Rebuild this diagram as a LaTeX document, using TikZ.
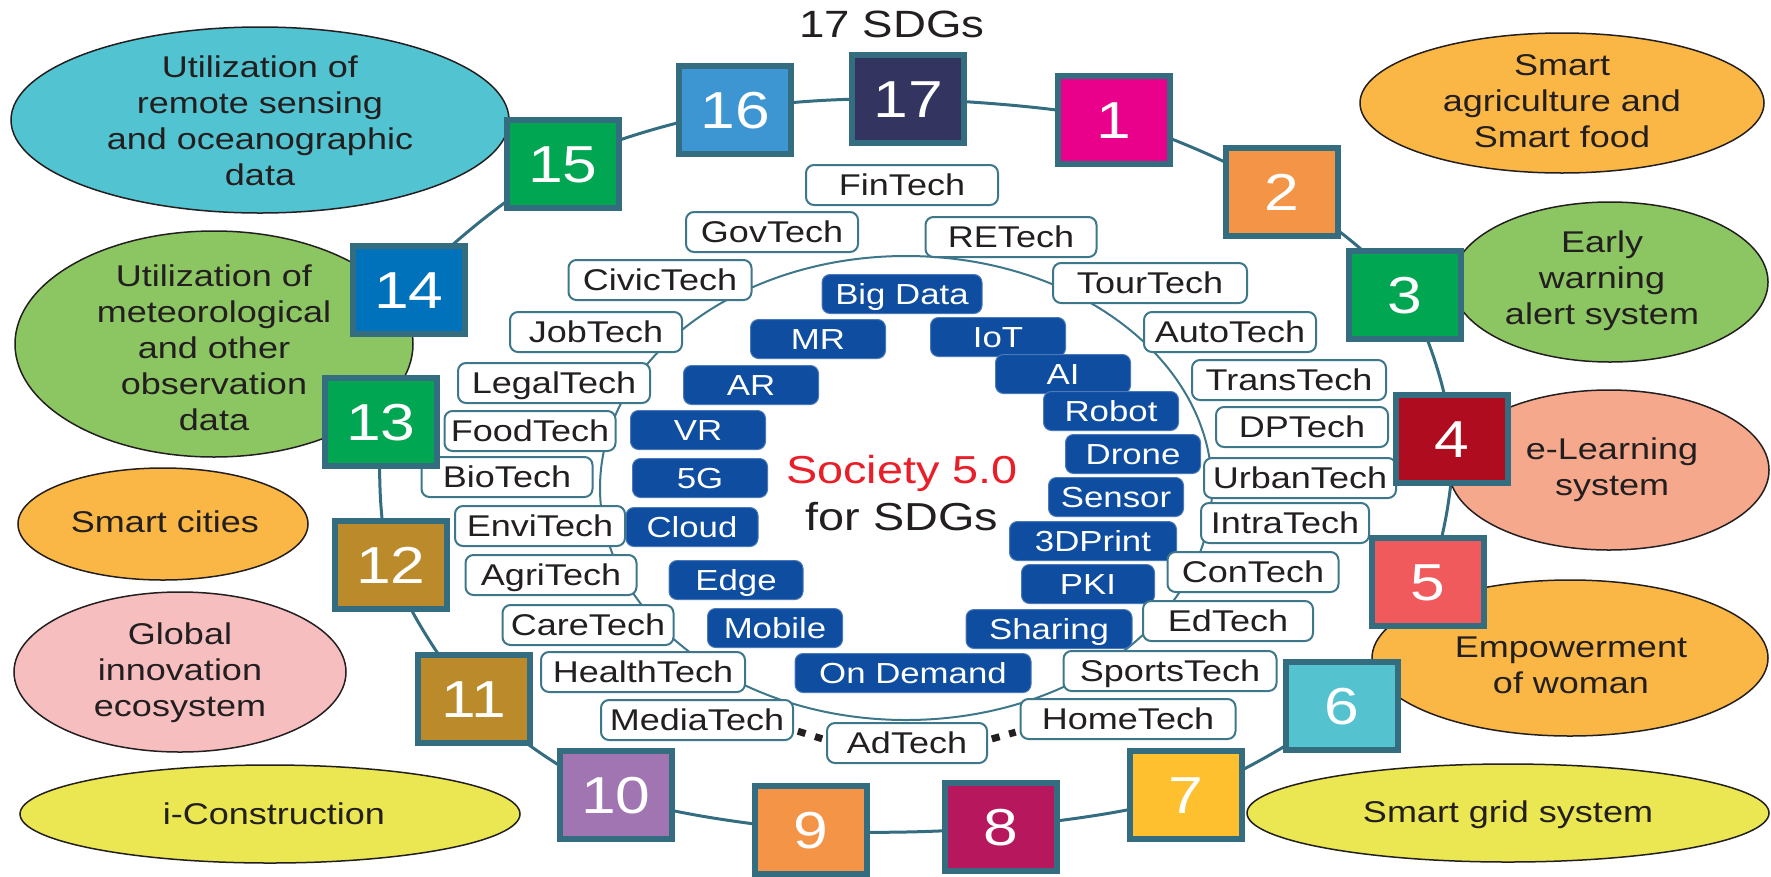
\documentclass[tikz,border=0pt]{standalone}
\usepackage{fontspec}
\setmainfont{Liberation Sans}[FakeStretch=1.2]
\usepackage{tikz}
\usetikzlibrary{backgrounds}
\definecolor{ink}{RGB}{35,31,32}
\definecolor{ringblue}{RGB}{52,108,128}
\definecolor{techline}{RGB}{62,118,138}
\definecolor{chipblue}{RGB}{14,77,160}
\definecolor{societyred}{RGB}{232,30,40}
% goal colours
\definecolor{sdgmagenta}{RGB}{233,0,139}
\definecolor{sdgorange}{RGB}{243,148,70}
\definecolor{sdggreen}{RGB}{0,166,81}
\definecolor{sdgdarkred}{RGB}{176,12,31}
\definecolor{sdgcoral}{RGB}{240,90,92}
\definecolor{sdgcyan}{RGB}{85,195,207}
\definecolor{sdgyellow}{RGB}{254,192,47}
\definecolor{sdgcrimson}{RGB}{183,23,92}
\definecolor{sdgpurple}{RGB}{160,117,178}
\definecolor{sdggold}{RGB}{187,138,42}
\definecolor{sdgblue}{RGB}{0,114,188}
\definecolor{sdgsky}{RGB}{61,149,210}
\definecolor{sdgnavy}{RGB}{51,52,96}
% bubble colours
\definecolor{bubblecyan}{RGB}{82,195,208}
\definecolor{bubblegreen}{RGB}{140,198,99}
\definecolor{bubbleorange}{RGB}{251,183,70}
\definecolor{bubblepink}{RGB}{247,190,192}
\definecolor{bubbleyellow}{RGB}{234,231,82}
\definecolor{bubblesalmon}{RGB}{245,168,140}

\tikzset{
  bubble/.style={draw=ink, line width=1.5pt},
  bubbletext/.style={align=center, text=ink, inner sep=0pt, font=\fontsize{30}{36}\selectfont},
  sdg/.style={draw=ringblue, line width=6pt, minimum width=112, minimum height=88, inner sep=0pt, text=white, font=\fontsize{52}{60}\selectfont, text height=37pt, text depth=0pt},
  techbox/.style={draw=techline, line width=2pt, fill=white, rounded corners=8pt, minimum height=40, inner sep=0pt, text=ink, font=\fontsize{30}{36}\selectfont, text height=21.5pt, text depth=0pt},
  chip/.style={fill=chipblue, draw=chipblue!75!white, line width=1pt, rounded corners=8pt, minimum height=39, inner sep=0pt, text=white, font=\fontsize{29}{34}\selectfont, text height=21pt, text depth=0pt},
  ringline/.style={draw=ringblue, line width=3pt},
  innerring/.style={draw=techline, line width=2pt},
  adlink/.style={draw=ink, line width=7pt, dash pattern=on 8pt off 10pt, shorten <=4pt, shorten >=4pt},
}

\begin{document}
\begin{tikzpicture}[x=1pt,y=-1pt]
\useasboundingbox (0,0) rectangle (1771,876);

%Ellipses left
\draw[bubble, fill=bubblecyan] (260,120) ellipse [x radius=249, y radius=93];
\node[bubbletext] (remote) at (260,121) {Utilization of\\remote sensing\\and oceanographic\\data};
\draw[bubble, fill=bubblegreen] (214,344) ellipse [x radius=199, y radius=113];
\node[bubbletext] (meteo) at (214,348) {Utilization of\\meteorological\\and other\\observation\\data};
\draw[bubble, fill=bubbleorange] (163,524) ellipse [x radius=145, y radius=56];
\node[bubbletext] (cities) at (165,522) {Smart cities};
\draw[bubble, fill=bubblepink] (180,672) ellipse [x radius=166, y radius=80];
\node[bubbletext] (global) at (180,673) {Global\\innovation\\ecosystem};
\draw[bubble, fill=bubbleyellow] (270,814) ellipse [x radius=250, y radius=49];
\node[bubbletext] (icons) at (274,814) {i-Construction};

%Ellipses right
\draw[bubble, fill=bubbleorange] (1562,103) ellipse [x radius=202, y radius=70];
\node[bubbletext] (agri) at (1562,101) {Smart\\agriculture and\\Smart food};
\draw[bubble, fill=bubblegreen] (1610,282) ellipse [x radius=158, y radius=80];
\node[bubbletext] (early) at (1602,281) {Early\\warning\\alert system};
\draw[bubble, fill=bubblesalmon] (1609,470) ellipse [x radius=160, y radius=80];
\node[bubbletext] (elearn) at (1612,470) {e-Learning\\system};
\draw[bubble, fill=bubbleorange] (1570,658) ellipse [x radius=198, y radius=78];
\node[bubbletext] (empower) at (1571,665) {Empowerment\\of woman};
\draw[bubble, fill=bubbleyellow] (1508,813) ellipse [x radius=261, y radius=49];
\node[bubbletext] (grid) at (1508,815) {Smart grid system};

%Inner ring
\draw[innerring] (906,488) ellipse [x radius=306, y radius=232];

%Technologies
\foreach \n/\t/\x/\y/\w in {bigdata/Big Data/902/294/160, mr/MR/818/339/135, iot/IoT/998/337/135,
  ar/AR/751/385/135, ai/AI/1063/374/135, vr/VR/698/430/135, robot/Robot/1111/411/135,
  fiveg/5G/700/478/135, drone/Drone/1133/454/135, sensor/Sensor/1116/497/135,
  cloud/Cloud/692/527/132, print/3DPrint/1093/541/167, edge/Edge/736/580/134,
  pki/PKI/1088/584/133, mobile/Mobile/775/628/135, sharing/Sharing/1049/629/166,
  ondemand/On Demand/913/673/236}
  \node[chip, minimum width=\w] (\n) at (\x,\y) {\t};

%X-Tech boxes
\foreach \t/\x/\y/\w in {FinTech/902/185/192, GovTech/772/232/172, RETech/1011/237/171,
  CivicTech/660/280/183, TourTech/1150/283/194, JobTech/596/332/172, AutoTech/1230/332/172,
  LegalTech/554/383/192, TransTech/1289/380/194, FoodTech/530/431/171, DPTech/1302/427/172,
  BioTech/507/477/171, UrbanTech/1300/478/192, EnviTech/540/526/170, IntraTech/1285/523/168,
  AgriTech/551/575/171, ConTech/1253/572/171, CareTech/588/625/171, EdTech/1228/621/170,
  HealthTech/643/672/204, SportsTech/1170/671/213, MediaTech/697/720/192,
  HomeTech/1128/719/215, AdTech/907/743/160}
  \node[techbox, minimum width=\w] (\t) at (\x,\y) {\t};

\draw[adlink] ([yshift=-10pt]MediaTech.east) -- ([yshift=3pt]AdTech.west);
\draw[adlink] ([yshift=3pt]AdTech.east) -- ([yshift=-12pt]HomeTech.west);

%SDG boxes
\foreach \n/\x/\y/\c in {1/1114/120/sdgmagenta, 2/1282/192/sdgorange, 3/1405/295/sdggreen,
  4/1452/439/sdgdarkred, 5/1428/582/sdgcoral, 6/1342/706/sdgcyan, 7/1186/795/sdgyellow,
  8/1001/827/sdgcrimson, 9/811/830/sdgorange, 10/616/795/sdgpurple, 11/474/699/sdggold,
  12/391/565/sdggold, 13/381/422/sdggreen, 14/409/290/sdgblue, 15/563/164/sdggreen,
  16/735/110/sdgsky, 17/908/99/sdgnavy}
  \node[sdg, fill=\c] (s\n) at (\x,\y) {\n};

\begin{scope}[on background layer]
\draw[ringline] plot[smooth cycle, tension=0.5] coordinates {(s1) (s2) (s3) (s4) (s5) (s6) (s7) (s8) (s9) (s10) (s11) (s12) (s13) (s14) (s15) (s16) (s17)};
\end{scope}

% Text Node
\node[anchor=base, inner sep=0pt, text=ink, font=\fontsize{38}{44}\selectfont] (title) at (892,37) {17 SDGs};
% Text Node
\node[align=center, inner sep=0pt, text=ink, font=\fontsize{39}{47}\selectfont] (core) at (902,493) {\textcolor{societyred}{Society 5.0}\\for SDGs};

\end{tikzpicture}
\end{document}
